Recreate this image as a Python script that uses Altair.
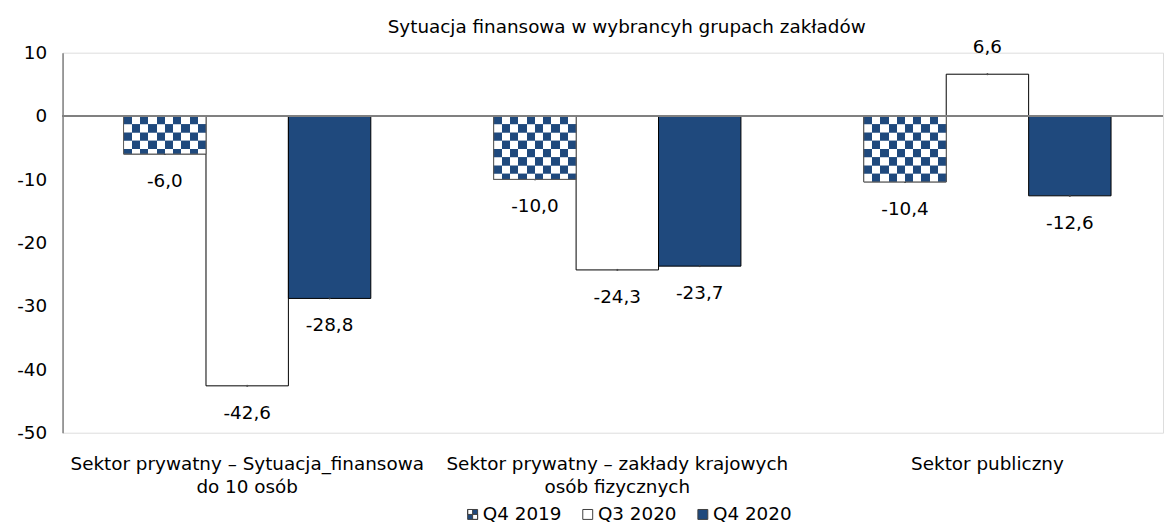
import altair as alt
import pandas as pd
import math

categories = [
    "Sektor prywatny – Sytuacja_finansowa|do 10 osób",
    "Sektor prywatny – zakłady krajowych|osób fizycznych",
    "Sektor publiczny",
]
series = ["Q4 2019", "Q3 2020", "Q4 2020"]
q4_2019 = [-6.0, -10.0, -10.4]
q3_2020 = [-42.6, -24.3, 6.6]
q4_2020 = [-28.8, -23.7, -12.6]
y_ticks = [-50, -40, -30, -20, -10, 0, 10]
title_text = "Sytuacja finansowa w wybrancyh grupach zakładów"

BLUE = "#1F497D"
FONT = "DejaVu Sans"
FS = 18.5

rows = []
for s, vals in zip(series, [q4_2019, q3_2020, q4_2020]):
    for c, v in zip(categories, vals):
        rows.append({"cat": c, "series": s, "value": v})
df = pd.DataFrame(rows)

# checkerboard rows for the patterned series (decoration derived from data)
cell = 1.30  # row height in data units (square cells)
checker = []
for c, v in zip(categories, q4_2019):
    n = math.ceil(abs(v) / cell - 1e-9)
    for k in range(n):
        top = -k * cell if v < 0 else k * cell
        bot = max(-(k + 1) * cell, v) if v < 0 else min((k + 1) * cell, v)
        checker.append({"cat": c, "series": series[0], "y": top, "y2": bot, "parity": k % 2})
dch = pd.DataFrame(checker)

def stripes(start_blue, n=10):
    stops = []
    for i in range(n):
        col = BLUE if (i % 2 == 0) == start_blue else "#FFFFFF"
        stops.append(alt.GradientStop(offset=i / n, color=col))
        stops.append(alt.GradientStop(offset=(i + 1) / n, color=col))
    return alt.LinearGradient(gradient="linear", stops=stops, x1=0, x2=1, y1=0, y2=0)

xscale = alt.Scale(domain=categories, paddingInner=0.332, paddingOuter=0.1526, align=0.54)
xenc = alt.X("cat:N", scale=xscale, sort=categories,
             axis=alt.Axis(title=None, domain=False, ticks=False, labelAngle=0,
                           labelExpr="split(datum.label, '|')", labelFontSize=FS,
                           labelFont=FONT, labelColor="#000", labelPadding=22,
                           labelLineHeight=23, labelLimit=0, labelOverlap=False,
                           labelBound=False))
xoff = alt.XOffset("series:N", scale=alt.Scale(domain=series, paddingInner=0, paddingOuter=0), sort=series)
yscale = alt.Scale(domain=[-50, 10], nice=False, zero=False)
yenc = alt.Y("value:Q", scale=yscale,
             axis=alt.Axis(title=None, values=y_ticks, grid=False, ticks=False,
                           domainColor="#808080", domainWidth=1.5, labelFontSize=FS,
                           labelFont=FONT, labelColor="#000", labelPadding=16,
                           minExtent=55))

color = alt.Color("series:N", scale=alt.Scale(domain=series, range=[BLUE, "#FFFFFF", BLUE]),
                  legend=alt.Legend(title=None, orient="none", direction="horizontal",
                                    legendX=404, legendY=456, labelFontSize=FS,
                                    labelFont=FONT, labelColor="#000", symbolSize=100,
                                    labelOffset=1, columnPadding=17,
                                    symbolStrokeColor="#404040", symbolStrokeWidth=1))
checker_path = "M-1,-1H1V1H-1Z M-1,-1V0H0V-1Z M0,0V1H1V0Z"
shape = alt.Shape("series:N", scale=alt.Scale(domain=series, range=[checker_path, "square", "square"]),
                  legend=alt.Legend(title=None, orient="none", direction="horizontal",
                                    legendX=404, legendY=456))

base = alt.Chart(df)

bars = base.mark_bar(stroke="#000000", strokeWidth=1).encode(
    x=xenc, xOffset=xoff, y=yenc, color=color
)

legend_pts = base.mark_point(filled=True, size=1, opacity=1, stroke="#404040", strokeWidth=1).encode(
    x=xenc, xOffset=xoff, y=yenc, color=color, shape=shape
)

even = alt.Chart(dch).transform_filter("datum.parity == 0").mark_bar(fill=stripes(True), strokeWidth=0).encode(
    x=xenc, xOffset=xoff, y=alt.Y("y:Q", scale=yscale), y2="y2:Q"
)
odd = alt.Chart(dch).transform_filter("datum.parity == 1").mark_bar(fill=stripes(False), strokeWidth=0).encode(
    x=xenc, xOffset=xoff, y=alt.Y("y:Q", scale=yscale), y2="y2:Q"
)
outline = base.transform_filter(alt.datum.series == series[0]).mark_bar(
    fillOpacity=0, stroke="#606060", strokeWidth=1).encode(x=xenc, xOffset=xoff, y=yenc)

zero = alt.Chart(df).mark_rule(color="#808080", strokeWidth=2).encode(y=alt.datum(0))

lbl_expr = "format(datum.value, '.1f')"
neg_labels = base.transform_filter("datum.value < 0").transform_calculate(lbl=lbl_expr).mark_text(
    dy=27, baseline="middle", fontSize=FS, font=FONT, color="#000").encode(
    x=xenc, xOffset=xoff, y=yenc, text="lbl:N")
pos_labels = base.transform_filter("datum.value >= 0").transform_calculate(lbl=lbl_expr).mark_text(
    dy=-27, baseline="middle", fontSize=FS, font=FONT, color="#000").encode(
    x=xenc, xOffset=xoff, y=yenc, text="lbl:N")

chart = alt.layer(bars, legend_pts, even, odd, outline, zero, neg_labels, pos_labels).properties(
    width=1109, height=383,
    title=alt.Title(title_text, fontSize=FS, font=FONT, fontWeight="normal", color="#000",
                    offset=2, dx=14),
    padding={"left": 0, "top": 8, "right": 0, "bottom": 0},
).configure_view(stroke=None).configure(
    locale=alt.Locale(number=alt.NumberLocale(decimal=",", thousands=" ", grouping=[3],
                                              currency=["", " zł"], minus="-"))
).resolve_scale(shape="shared")

chart.save("out.html", embed_options={"renderer": "svg", "actions": False})
